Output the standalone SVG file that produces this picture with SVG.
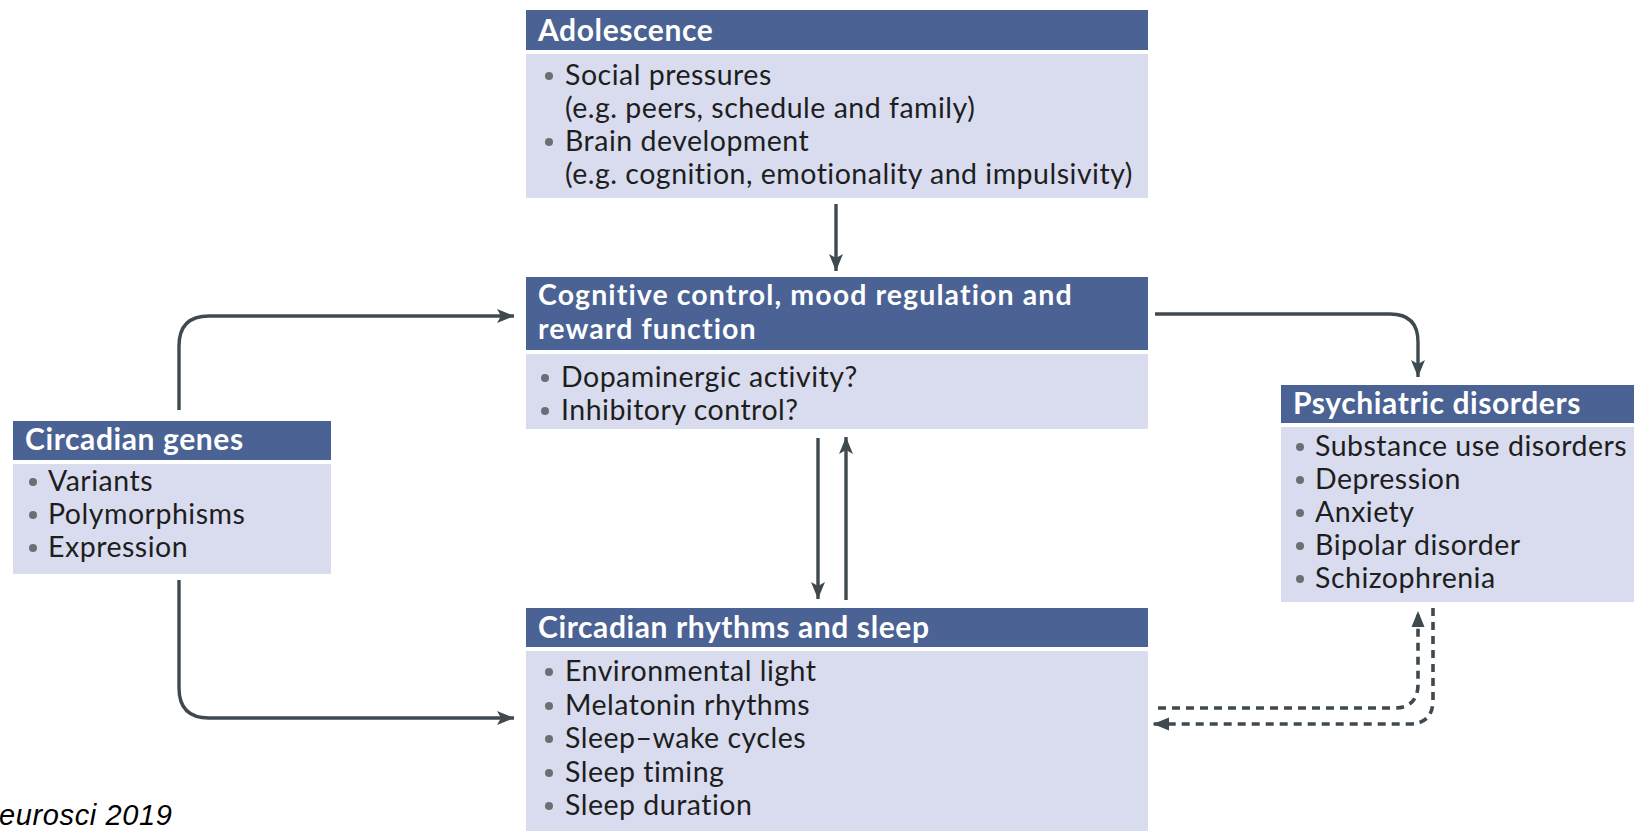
<svg xmlns="http://www.w3.org/2000/svg" width="1634" height="831" viewBox="0 0 1634 831">
<style>
.hd{fill:#4a6294}
.bd{fill:#d9dcee}
.ht{font-family:Lato,"Open Sans",sans-serif;font-weight:bold;font-size:30px;letter-spacing:0.6px;fill:#ffffff}
.ht2{font-size:28.5px;letter-spacing:1.1px}
.tx{font-family:Lato,"Open Sans",sans-serif;font-size:28.5px;letter-spacing:0.5px;fill:#1e1e1e}
.bu{fill:#6b6e72}
.ln{fill:none;stroke:#3f4a50;stroke-width:3.4}
.ds{fill:none;stroke:#3f4a50;stroke-width:3.6;stroke-dasharray:8 6}
.ft{font-family:"Liberation Sans",Arial,sans-serif;font-style:italic;font-size:29px;fill:#000}
</style>
<defs>
<marker id="ah" markerUnits="userSpaceOnUse" markerWidth="20" markerHeight="16" refX="17" refY="8" orient="auto">
<path d="M0,1 L17,8 L0,15 L4,8 Z" fill="#3f4a50"/>
</marker>
<marker id="ahd" markerUnits="userSpaceOnUse" markerWidth="20" markerHeight="16" refX="16" refY="8" orient="auto">
<path d="M0,1.5 L16,8 L0,14.5 Z" fill="#3f4a50"/>
</marker>
</defs>
<rect width="1634" height="831" fill="#ffffff"/>

<g id="connectors">
<path class="ln" d="M836,204 V271" marker-end="url(#ah)"/>
<path class="ln" d="M179,410 V346 Q179,316 209,316 H514" marker-end="url(#ah)"/>
<path class="ln" d="M179,580 V688 Q179,718 209,718 H514" marker-end="url(#ah)"/>
<path class="ln" d="M818,438 V599" marker-end="url(#ah)"/>
<path class="ln" d="M846,600 V437" marker-end="url(#ah)"/>
<path class="ln" d="M1155,314 H1390 Q1418,314 1418,342 V377" marker-end="url(#ah)"/>
<path class="ds" d="M1158,708 H1394 Q1418,708 1418,684 V611" marker-end="url(#ahd)"/>
<path class="ds" d="M1433,608 V700 Q1433,724 1409,724 H1153" marker-end="url(#ahd)"/>
</g>

<g id="adolescence">
<rect class="hd" x="526" y="10" width="622" height="40"/>
<rect class="bd" x="526" y="54" width="622" height="144"/>
<text class="ht" x="538" y="41">Adolescence</text>
<circle class="bu" cx="549" cy="76" r="4"/>
<circle class="bu" cx="549" cy="142" r="4"/>
<text class="tx" x="565" y="85">Social pressures</text>
<text class="tx" x="565" y="118">(e.g. peers, schedule and family)</text>
<text class="tx" x="565" y="151">Brain development</text>
<text class="tx" x="565" y="184">(e.g. cognition, emotionality and impulsivity)</text>
</g>

<g id="cognitive">
<rect class="hd" x="526" y="277" width="622" height="73"/>
<rect class="bd" x="526" y="354" width="622" height="75"/>
<text class="ht ht2" x="538" y="305">Cognitive control, mood regulation and</text>
<text class="ht ht2" x="538" y="339">reward function</text>
<circle class="bu" cx="545" cy="378" r="4"/>
<circle class="bu" cx="545" cy="411" r="4"/>
<text class="tx" x="561" y="387">Dopaminergic activity?</text>
<text class="tx" x="561" y="420">Inhibitory control?</text>
</g>

<g id="circadian-genes">
<rect class="hd" x="13" y="421" width="318" height="39"/>
<rect class="bd" x="13" y="464" width="318" height="110"/>
<text class="ht" x="25" y="450">Circadian genes</text>
<circle class="bu" cx="33" cy="482" r="4"/>
<circle class="bu" cx="33" cy="515" r="4"/>
<circle class="bu" cx="33" cy="548" r="4"/>
<text class="tx" x="48" y="491">Variants</text>
<text class="tx" x="48" y="524">Polymorphisms</text>
<text class="tx" x="48" y="557">Expression</text>
</g>

<g id="psychiatric">
<rect class="hd" x="1281" y="385" width="353" height="38"/>
<rect class="bd" x="1281" y="427" width="353" height="175"/>
<text class="ht" x="1293" y="414">Psychiatric disorders</text>
<circle class="bu" cx="1300" cy="447" r="4"/>
<circle class="bu" cx="1300" cy="480" r="4"/>
<circle class="bu" cx="1300" cy="513" r="4"/>
<circle class="bu" cx="1300" cy="546" r="4"/>
<circle class="bu" cx="1300" cy="579" r="4"/>
<text class="tx" x="1315" y="456">Substance use disorders</text>
<text class="tx" x="1315" y="489">Depression</text>
<text class="tx" x="1315" y="522">Anxiety</text>
<text class="tx" x="1315" y="555">Bipolar disorder</text>
<text class="tx" x="1315" y="588">Schizophrenia</text>
</g>

<g id="circadian-rhythms">
<rect class="hd" x="526" y="608" width="622" height="39"/>
<rect class="bd" x="526" y="651" width="622" height="180"/>
<text class="ht" x="538" y="638">Circadian rhythms and sleep</text>
<circle class="bu" cx="549" cy="672" r="4"/>
<circle class="bu" cx="549" cy="706" r="4"/>
<circle class="bu" cx="549" cy="739" r="4"/>
<circle class="bu" cx="549" cy="773" r="4"/>
<circle class="bu" cx="549" cy="806" r="4"/>
<text class="tx" x="565" y="681">Environmental light</text>
<text class="tx" x="565" y="715">Melatonin rhythms</text>
<text class="tx" x="565" y="748">Sleep–wake cycles</text>
<text class="tx" x="565" y="782">Sleep timing</text>
<text class="tx" x="565" y="815">Sleep duration</text>
</g>

<text class="ft" x="-1" y="825" textLength="173">eurosci 2019</text>
</svg>
